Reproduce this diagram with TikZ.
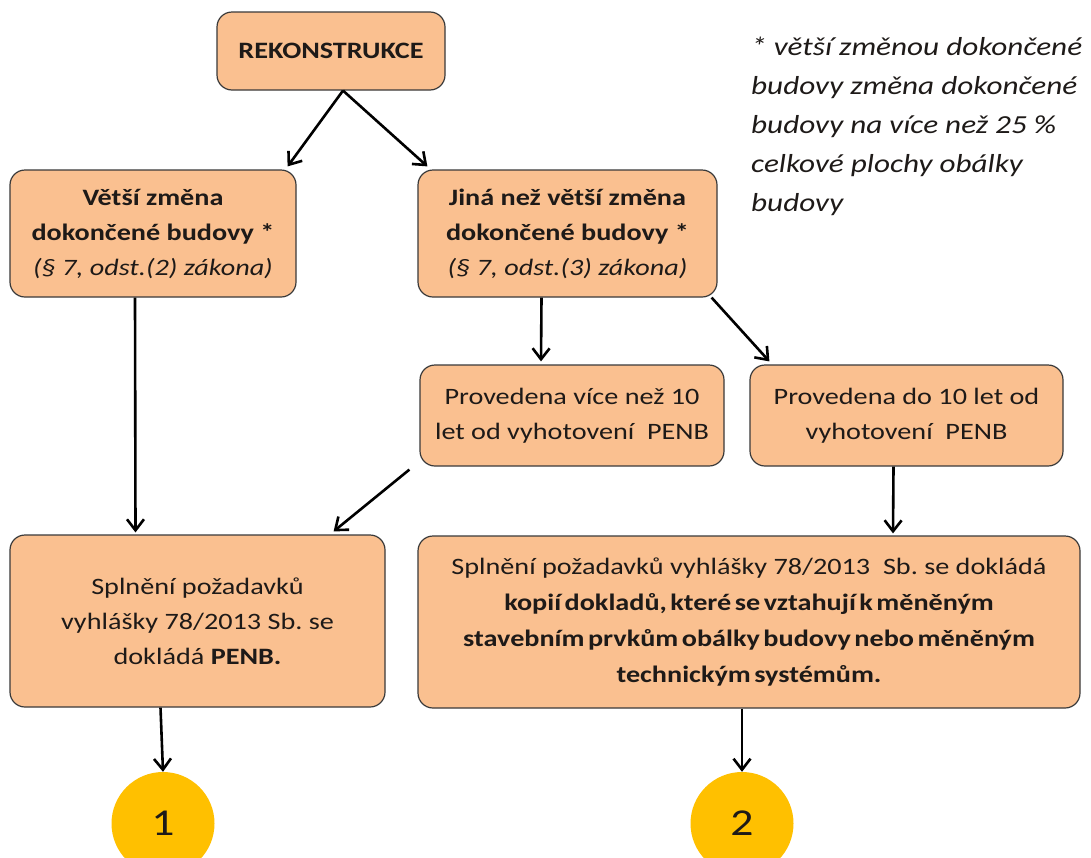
\documentclass[tikz,border=0pt]{standalone}
\usepackage{fontspec}
\setmainfont{Carlito}[FakeStretch=1.2]
\usetikzlibrary{arrows.meta,calc}
\definecolor{boxfill}{HTML}{FAC090}
\definecolor{boxline}{HTML}{3A3A3A}
\definecolor{circfill}{HTML}{FFC000}
\definecolor{txt}{HTML}{1E1A18}
\newcommand{\tightb}[1]{{\bfseries\spaceskip=3.5pt plus 1pt\relax #1}}
\frenchspacing
\begin{document}
\begin{tikzpicture}[x=1pt,y=-1pt,
  box/.style={draw=boxline, line width=1.2pt, fill=boxfill, rounded corners=15pt,
    align=center, text=txt, inner sep=0pt, font=\fontsize{23.5}{35}\selectfont},
  circ/.style={circle, fill=circfill, minimum size=103pt, inner sep=0pt,
    text=txt, font=\fontsize{38}{38}\selectfont},
  arr/.style={draw=black, line width=2.6pt, -{Straight Barb[length=11pt,width=17pt]}},
  note/.style={anchor=north west, align=left, inner sep=0pt, text=txt,
    font=\fontsize{26}{39}\selectfont\itshape}
]
\useasboundingbox[fill=white] (0,0) rectangle (1091,857);

\node[box, minimum width=228pt, minimum height=78pt] (rek) at (331,51) {\textbf{REKONSTRUKCE}};
\node[box, minimum width=286pt, minimum height=127pt] (v1) at (153,233.5)
  {\textbf{Větší změna}\\\textbf{dokončené budovy *}\\\textit{(§ 7, odst.(2) zákona)}};
\node[box, minimum width=299pt, minimum height=127pt] (v2) at (567.5,233.5)
  {\textbf{Jiná než větší změna}\\\textbf{dokončené budovy *}\\\textit{(§ 7, odst.(3) zákona)}};
\node[box, minimum width=304pt, minimum height=101pt] (p1) at (572,415.5)
  {Provedena více než 10\\let od vyhotovení\ \ PENB};
\node[box, minimum width=313pt, minimum height=101pt] (p2) at (906.5,415.5)
  {Provedena do 10 let od\\vyhotovení\ \ PENB};
\node[box, minimum width=375pt, minimum height=172pt] (b1) at (197.5,621)
  {Splnění požadavků\\vyhlášky 78/2013 Sb. se\\dokládá \textbf{PENB.}};
\node[box, minimum width=662pt, minimum height=172pt, font=\fontsize{23.5}{36}\selectfont] (b2) at (749,622)
  {Splnění požadavků vyhlášky 78/2013\ \ Sb. se dokládá\\
   \tightb{kopií dokladů, které se vztahují k měněným}\\
   \tightb{stavebním prvkům obálky budovy nebo měněným}\\
   \tightb{technickým systémům.}};
\node[circ] (c1) at (163,823.5) {1};
\node[circ] (c2) at (742,823.5) {2};

\node[note] (pozn) at (751,37)
  {* větší změnou dokončené\\budovy změna dokončené\\budovy na více než 25 \%\\celkové plochy obálky\\budovy};

\draw[arr] ($(rek.south)+(12,0)$) -- ($(v1.north east)+(-9,-3)$);
\draw[arr] ($(rek.south)+(12,0)$) -- ($(v2.north west)+(10,-3)$);
\draw[arr] ($(v2.south)+(-26,0)$) -- ($(p1.north)+(-31,-3)$);
\draw[arr] ($(v2.south east)+(-6,0)$) -- ($(p2.north west)+(20,-3)$);
\draw[arr] ($(v1.south)+(-18,0)$) -- ($(b1.north)+(-62,-2)$);
\draw[arr] ($(p1.south west)+(-10,3)$) -- ($(b1.north east)+(-52,-3)$);
\draw[arr] ($(p2.south)+(-13,0)$) -- ($(b2.north)+(144,-2)$);
\draw[arr] ($(b1.south)+(-37,0)$) -- (c1.north);
\draw[arr] ($(b2.south)+(-7,0)$) -- (c2.north);
\end{tikzpicture}
\end{document}
